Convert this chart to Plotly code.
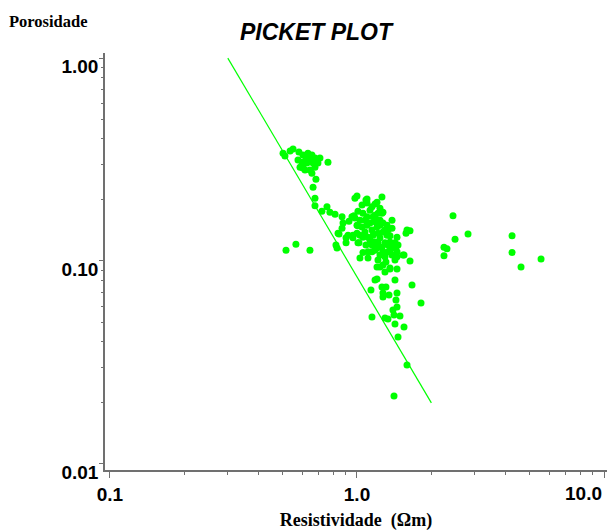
import plotly.graph_objects as go

# Well-log samples: true resistivity (ohm.m) vs porosity (fraction)
resistividade = [
    0.502, 0.511, 0.536, 0.551, 0.582, 0.604, 0.633, 0.657, 0.645, 0.599,
    0.588, 0.604, 0.627, 0.664, 0.695, 0.676, 0.645, 0.657, 0.676, 0.604,
    0.763, 0.682, 0.664, 0.676, 0.676, 0.622, 0.616, 0.577, 0.708,
    0.721, 0.756, 0.777, 0.815, 0.870, 0.878, 0.928, 0.954, 0.981, 1.000,
    1.087, 1.098, 1.262, 1.009, 0.981, 1.009, 0.846, 0.870, 0.903, 0.920,
    0.963, 1.009, 0.822, 0.830, 0.516, 0.566, 0.645, 1.028, 1.057, 1.108,
    1.205, 1.594, 1.639, 1.452, 1.550, 1.639, 1.360, 1.579, 0.838, 0.972,
    1.098, 0.903, 1.019, 1.108,
    1.150, 1.183, 1.205, 1.239, 1.262, 1.274, 1.216, 1.161, 1.098, 1.057,
    1.028, 1.000, 1.048, 1.098, 1.129, 1.183, 1.239, 1.274, 1.323, 1.205,
    1.150, 1.077, 1.000, 0.963, 1.057, 1.108, 1.161, 1.216, 1.274, 1.335,
    1.386, 1.323, 1.239, 1.183, 1.150, 1.205, 1.262, 1.298, 1.360, 1.425,
    1.466, 1.398, 1.335, 1.274, 1.239, 1.298, 1.386, 1.452, 1.535, 1.216,
    1.274, 1.239, 1.360, 1.452, 1.298, 1.452, 1.048, 1.129, 1.077, 1.183,
    1.298, 1.129, 1.216, 1.335, 1.183, 1.360, 1.425, 1.310, 1.150, 1.239,
    1.360, 1.087, 1.028, 1.386, 1.205, 1.438,
    1.183, 1.205, 1.139, 1.262, 1.310, 1.274, 1.274, 1.348, 1.452, 1.438,
    1.425, 1.670, 1.816, 1.452, 1.398, 1.493, 1.412, 1.335, 1.298, 1.150,
    1.425, 1.550, 1.466, 1.594, 1.412,
    2.447, 2.494, 2.250, 2.313, 2.250, 2.815, 4.243, 4.243, 4.613, 5.559,
]

porosidade = [
    0.340, 0.329, 0.348, 0.356, 0.344, 0.333, 0.340, 0.333, 0.315, 0.307,
    0.290, 0.297, 0.304, 0.304, 0.304, 0.290, 0.281, 0.271, 0.322, 0.287,
    0.307, 0.253, 0.231, 0.204, 0.187, 0.322, 0.281, 0.315, 0.322,
    0.176, 0.185, 0.174, 0.170, 0.165, 0.154, 0.157, 0.165, 0.204, 0.209,
    0.200, 0.193, 0.207, 0.176, 0.163, 0.149, 0.136, 0.145, 0.130, 0.134,
    0.134, 0.123, 0.120, 0.116, 0.113, 0.121, 0.113, 0.1035, 0.110, 0.1035,
    0.0934, 0.142, 0.141, 0.131, 0.107, 0.100, 0.0924, 0.137, 0.137, 0.167,
    0.202, 0.123, 0.123, 0.111,
    0.185, 0.191, 0.195, 0.182, 0.172, 0.174, 0.172, 0.165, 0.165, 0.172,
    0.159, 0.150, 0.147, 0.150, 0.154, 0.156, 0.159, 0.154, 0.150, 0.147,
    0.142, 0.139, 0.137, 0.130, 0.131, 0.131, 0.134, 0.137, 0.139, 0.142,
    0.145, 0.134, 0.130, 0.124, 0.120, 0.116, 0.117, 0.123, 0.124, 0.123,
    0.120, 0.116, 0.111, 0.111, 0.107, 0.105, 0.107, 0.111, 0.107, 0.1011,
    0.0956, 0.0934, 0.0913, 0.0913, 0.0883, 0.105, 0.189, 0.178, 0.159, 0.168,
    0.142, 0.127, 0.123, 0.120, 0.113, 0.113, 0.1011, 0.0989, 0.111, 0.150,
    0.133, 0.120, 0.134, 0.159, 0.159, 0.117,
    0.0806, 0.0815, 0.0720, 0.0745, 0.0745, 0.0696, 0.0665, 0.0680, 0.0696, 0.0643,
    0.0806, 0.0762, 0.0621, 0.0593, 0.0574, 0.0536, 0.0542, 0.0518, 0.0524, 0.0530,
    0.0489, 0.0473, 0.0422, 0.0307, 0.0216,
    0.167, 0.128, 0.117, 0.115, 0.106, 0.136, 0.133, 0.110, 0.0934, 0.1023,
]

# Water line (100 % water saturation)
reta_rt = [0.3, 2.0]
reta_phi = [1.0, 0.02]

x_major = [0.1, 1.0, 10.0]
x_major_text = ["0.1", "1.0", "10.0"]
x_minor = [0.2, 0.3, 0.4, 0.5, 0.6, 0.7, 0.8, 0.9, 2, 3, 4, 5, 6, 7, 8, 9]
y_major = [0.01, 0.1, 1.0]
y_major_text = ["0.01", "0.10", "1.00"]
y_minor = [0.02, 0.03, 0.04, 0.05, 0.06, 0.07, 0.08, 0.09,
           0.2, 0.3, 0.4, 0.5, 0.6, 0.7, 0.8, 0.9]

GREEN = "#00ff00"
AXIS = "#707070"
SANS = "Liberation Sans, Arial, sans-serif"
SERIF = "Liberation Serif, Times New Roman, serif"
TICKFONT = dict(family=SANS, size=19, color="black", weight="bold")

fig = go.Figure()
fig.add_trace(go.Scatter(
    x=reta_rt, y=reta_phi, mode="lines",
    line=dict(color=GREEN, width=1.2), hoverinfo="skip", showlegend=False,
))
fig.add_trace(go.Scatter(
    x=resistividade, y=porosidade, mode="markers",
    marker=dict(color=GREEN, size=7, line=dict(width=0)), showlegend=False,
))

# The last x tick label sits at the right edge, so it is right-aligned on its tick
last_x_label = dict(
    text=x_major_text[-1], xref="x", yref="paper",
    x=1.0, y=0, xanchor="right", yanchor="top", yshift=-11,
    showarrow=False, font=TICKFONT,
)

fig.update_layout(
    width=607, height=531,
    margin=dict(l=105, r=0, t=53, b=61, autoexpand=False),
    paper_bgcolor="white", plot_bgcolor="white",
    annotations=[
        dict(text="<b><i>PICKET PLOT</i></b>", xref="paper", yref="paper",
             x=0.4223, y=1.05, xanchor="center", yanchor="middle",
             showarrow=False, font=dict(family=SANS, size=23, color="black")),
        dict(text="<b>Porosidade</b>", xref="paper", yref="paper",
             x=-0.195, y=1.075, xanchor="left", yanchor="middle",
             showarrow=False, font=dict(family=SERIF, size=16.5, color="black")),
        last_x_label,
    ],
)

fig.update_xaxes(
    type="log", range=[-1.02, 1.012], automargin=False,
    showgrid=False, zeroline=False,
    showline=True, linecolor=AXIS, linewidth=1.5,
    tickmode="array", tickvals=x_major, ticktext=x_major_text[:-1] + [""],
    ticks="outside", ticklen=6, tickcolor=AXIS, tickwidth=1,
    tickfont=TICKFONT,
    minor=dict(tickmode="array", tickvals=x_minor, ticks="outside",
               ticklen=3, tickcolor=AXIS, tickwidth=1, showgrid=False),
    title=dict(text="<b>Resistividade\u00a0 (\u03a9m)</b>", standoff=12,
               font=dict(family=SERIF, size=18, color="black")),
)

fig.update_yaxes(
    type="log", range=[-2.03, 0.025], automargin=False,
    showgrid=False, zeroline=False,
    showline=True, linecolor=AXIS, linewidth=1.5,
    tickmode="array", tickvals=y_major, ticktext=y_major_text,
    ticks="outside", ticklen=4, tickcolor=AXIS, tickwidth=1,
    ticklabelshift=8, ticklabelstandoff=-3,
    tickfont=TICKFONT,
    minor=dict(tickmode="array", tickvals=y_minor, ticks="outside",
               ticklen=2, tickcolor=AXIS, tickwidth=1, showgrid=False),
)

fig.write_html("out.html")
